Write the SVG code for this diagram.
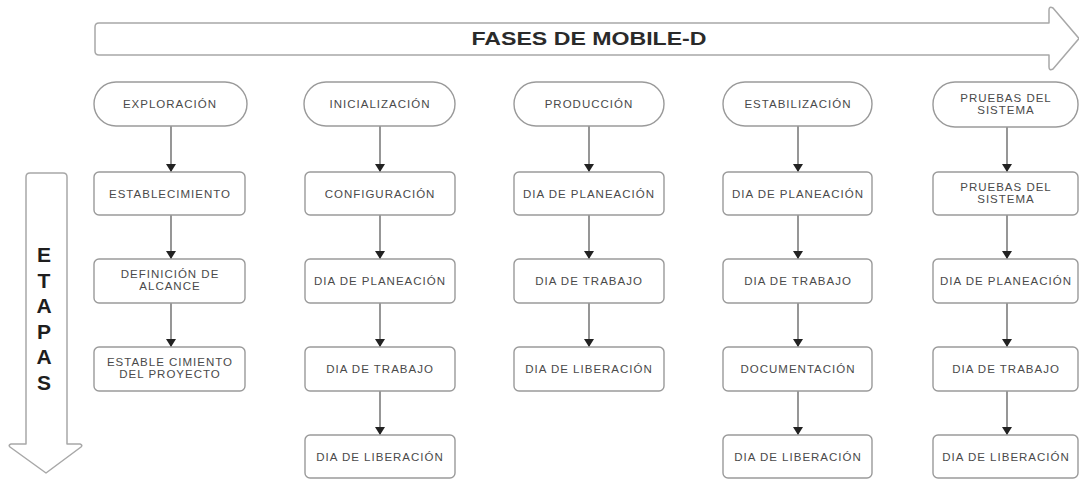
<svg xmlns="http://www.w3.org/2000/svg" width="1079" height="479" viewBox="0 0 1079 479">
<defs>
<style>
.bg{fill:#ffffff}
.big{fill:#ffffff;stroke:#a8a8a8;stroke-width:1.5;stroke-linejoin:round}
.node{fill:#ffffff;stroke:#9a9a9a;stroke-width:1.4}
.t{font-family:"Liberation Sans",Arial,sans-serif;font-size:11.5px;letter-spacing:1px;fill:#4a4a4a;text-anchor:middle}
.title{font-family:"Liberation Sans",Arial,sans-serif;font-size:18px;font-weight:bold;fill:#2a2a2a;text-anchor:middle}
.et{font-family:"Liberation Sans",Arial,sans-serif;font-size:21px;font-weight:bold;fill:#1e1e1e;text-anchor:middle}
.conn{stroke:#6a6a6a;stroke-width:1.4;fill:none}
</style>
<marker id="ah" viewBox="0 0 8 10" refX="8" refY="5" markerWidth="8" markerHeight="10" markerUnits="userSpaceOnUse" orient="auto">
<path d="M0,0 L8,5 L0,10 Z" fill="#222"/>
</marker>
</defs>
<rect class="bg" x="0" y="0" width="1079" height="479"/>

<g id="fases-arrow">
<path class="big" d="M99,23 L1049,23 L1049,10 Q1049,6 1053,8 L1079,38.5 L1053,69 Q1049,71 1049,67 L1049,55 L99,55 Q95,55 95,51 L95,27 Q95,23 99,23 Z"/>
<text class="title" x="589" y="45" textLength="235" lengthAdjust="spacingAndGlyphs">FASES DE MOBILE-D</text>
</g>

<g id="etapas-arrow">
<path class="big" d="M30,173 L63,173 Q67,173 67,177 L67,444 L80,444 Q83,445 81,447 L46,473 L10,447 Q8,445 11,444 L26,444 L26,177 Q26,173 30,173 Z"/>
<text class="et" x="44" y="262">E</text>
<text class="et" x="44" y="287.5">T</text>
<text class="et" x="44" y="313">A</text>
<text class="et" x="44" y="338.5">P</text>
<text class="et" x="44" y="364">A</text>
<text class="et" x="44" y="389.5">S</text>
</g>

<g id="connectors">
<line class="conn" x1="171" y1="126" x2="171" y2="172" marker-end="url(#ah)"/>
<line class="conn" x1="171" y1="215" x2="171" y2="259" marker-end="url(#ah)"/>
<line class="conn" x1="171" y1="303" x2="171" y2="347" marker-end="url(#ah)"/>

<line class="conn" x1="380" y1="126" x2="380" y2="172" marker-end="url(#ah)"/>
<line class="conn" x1="380" y1="215" x2="380" y2="259" marker-end="url(#ah)"/>
<line class="conn" x1="380" y1="303" x2="380" y2="347" marker-end="url(#ah)"/>
<line class="conn" x1="380" y1="391" x2="380" y2="435" marker-end="url(#ah)"/>

<line class="conn" x1="589" y1="126" x2="589" y2="172" marker-end="url(#ah)"/>
<line class="conn" x1="589" y1="215" x2="589" y2="259" marker-end="url(#ah)"/>
<line class="conn" x1="589" y1="303" x2="589" y2="347" marker-end="url(#ah)"/>

<line class="conn" x1="798" y1="126" x2="798" y2="172" marker-end="url(#ah)"/>
<line class="conn" x1="798" y1="215" x2="798" y2="259" marker-end="url(#ah)"/>
<line class="conn" x1="798" y1="303" x2="798" y2="347" marker-end="url(#ah)"/>
<line class="conn" x1="798" y1="391" x2="798" y2="435" marker-end="url(#ah)"/>

<line class="conn" x1="1007" y1="127" x2="1007" y2="172" marker-end="url(#ah)"/>
<line class="conn" x1="1007" y1="215" x2="1007" y2="259" marker-end="url(#ah)"/>
<line class="conn" x1="1007" y1="303" x2="1007" y2="347" marker-end="url(#ah)"/>
<line class="conn" x1="1007" y1="391" x2="1007" y2="435" marker-end="url(#ah)"/>
</g>

<!-- Column 1 -->
<g id="exploracion"><rect class="node" x="94" y="82" width="153" height="44" rx="22"/><text class="t" x="170" y="108">EXPLORACIÓN</text></g>
<g id="establecimiento"><rect class="node" x="94" y="172" width="151" height="43" rx="5"/><text class="t" x="170" y="197.5">ESTABLECIMIENTO</text></g>
<g id="definicion-alcance"><rect class="node" x="94" y="259" width="151" height="44" rx="5"/><text class="t" x="170" y="277.5">DEFINICIÓN DE</text><text class="t" x="170" y="289.5">ALCANCE</text></g>
<g id="establecimiento-proyecto"><rect class="node" x="94" y="347" width="151" height="44" rx="5"/><text class="t" x="170" y="365.5">ESTABLE CIMIENTO</text><text class="t" x="170" y="377.5">DEL PROYECTO</text></g>

<!-- Column 2 -->
<g id="inicializacion"><rect class="node" x="304" y="82" width="151" height="44" rx="22"/><text class="t" x="380" y="108">INICIALIZACIÓN</text></g>
<g id="configuracion"><rect class="node" x="305" y="172" width="150" height="43" rx="5"/><text class="t" x="380" y="197.5">CONFIGURACIÓN</text></g>
<g id="c2-planeacion"><rect class="node" x="305" y="259" width="150" height="44" rx="5"/><text class="t" x="380" y="285">DIA DE PLANEACIÓN</text></g>
<g id="c2-trabajo"><rect class="node" x="305" y="347" width="150" height="44" rx="5"/><text class="t" x="380" y="373">DIA DE TRABAJO</text></g>
<g id="c2-liberacion"><rect class="node" x="305" y="435" width="150" height="43" rx="5"/><text class="t" x="380" y="460.5">DIA DE LIBERACIÓN</text></g>

<!-- Column 3 -->
<g id="produccion"><rect class="node" x="514" y="82" width="150" height="44" rx="22"/><text class="t" x="589" y="108">PRODUCCIÓN</text></g>
<g id="c3-planeacion"><rect class="node" x="514" y="172" width="150" height="43" rx="5"/><text class="t" x="589" y="197.5">DIA DE PLANEACIÓN</text></g>
<g id="c3-trabajo"><rect class="node" x="514" y="259" width="150" height="44" rx="5"/><text class="t" x="589" y="285">DIA DE TRABAJO</text></g>
<g id="c3-liberacion"><rect class="node" x="514" y="347" width="150" height="44" rx="5"/><text class="t" x="589" y="373">DIA DE LIBERACIÓN</text></g>

<!-- Column 4 -->
<g id="estabilizacion"><rect class="node" x="723" y="82" width="149" height="44" rx="22"/><text class="t" x="798" y="108">ESTABILIZACIÓN</text></g>
<g id="c4-planeacion"><rect class="node" x="723" y="172" width="149" height="43" rx="5"/><text class="t" x="798" y="197.5">DIA DE PLANEACIÓN</text></g>
<g id="c4-trabajo"><rect class="node" x="723" y="259" width="149" height="44" rx="5"/><text class="t" x="798" y="285">DIA DE TRABAJO</text></g>
<g id="documentacion"><rect class="node" x="723" y="347" width="149" height="44" rx="5"/><text class="t" x="798" y="373">DOCUMENTACIÓN</text></g>
<g id="c4-liberacion"><rect class="node" x="723" y="435" width="149" height="43" rx="5"/><text class="t" x="798" y="460.5">DIA DE LIBERACIÓN</text></g>

<!-- Column 5 -->
<g id="pruebas-fase"><rect class="node" x="933" y="82" width="145" height="45" rx="22"/><text class="t" x="1006" y="102">PRUEBAS DEL</text><text class="t" x="1006" y="114">SISTEMA</text></g>
<g id="pruebas-sistema"><rect class="node" x="933" y="172" width="145" height="43" rx="5"/><text class="t" x="1006" y="191">PRUEBAS DEL</text><text class="t" x="1006" y="203">SISTEMA</text></g>
<g id="c5-planeacion"><rect class="node" x="933" y="259" width="145" height="44" rx="5"/><text class="t" x="1006" y="285">DIA DE PLANEACIÓN</text></g>
<g id="c5-trabajo"><rect class="node" x="933" y="347" width="145" height="44" rx="5"/><text class="t" x="1006" y="373">DIA DE TRABAJO</text></g>
<g id="c5-liberacion"><rect class="node" x="933" y="435" width="145" height="43" rx="5"/><text class="t" x="1006" y="460.5">DIA DE LIBERACIÓN</text></g>
</svg>
